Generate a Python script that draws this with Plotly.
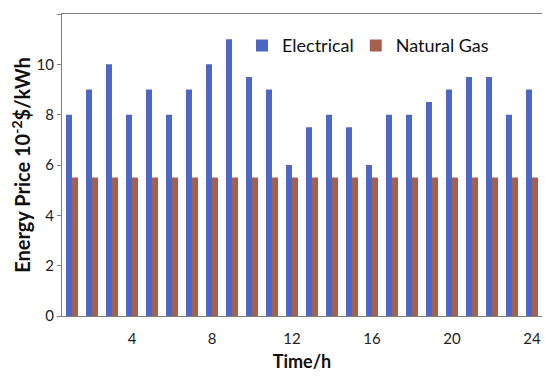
import plotly.graph_objects as go

hours = list(range(1, 25))
electrical = [8, 9, 10, 8, 9, 8, 9, 10, 11, 9.5, 9, 6, 7.5, 8, 7.5, 6, 8, 8, 8.5, 9, 9.5, 9.5, 8, 9]
natural_gas = [5.5] * 24
x_ticks = [4, 8, 12, 16, 20, 24]
y_ticks = [0, 2, 4, 6, 8, 10, 12]

FONT = "Lato"

fig = go.Figure()
fig.add_trace(go.Bar(x=hours, y=electrical, name="Electrical", marker_color="#4F67C4",
                     marker_line_width=0, showlegend=True))
fig.add_trace(go.Bar(x=hours, y=natural_gas, name="Natural Gas", marker_color="#A6604E",
                     marker_line_width=0, showlegend=True, legend="legend2"))

leg_common = dict(orientation="h", y=0.895, xanchor="left", yanchor="middle",
                  font=dict(family=FONT, size=18, color="#111"), itemwidth=30,
                  bgcolor="rgba(0,0,0,0)", visible=True)

# page body has an 8px margin, so the figure is sized to fit the 550x378 window
fig.update_layout(
    width=542, height=370,
    margin=dict(l=54, r=8, t=6, b=62, autoexpand=False),
    paper_bgcolor="white", plot_bgcolor="white", showlegend=True,
    barmode="group", bargap=0.4, bargroupgap=0,
    font=dict(family=FONT, size=15, color="#222"),
    legend=dict(x=0.375, **leg_common),
    legend2=dict(x=0.612, **leg_common),
    xaxis=dict(range=[0.5, 24.5], tickvals=x_ticks, ticktext=[str(v) for v in x_ticks],
               showgrid=False, zeroline=False, showline=True, linecolor="#808080", linewidth=1,
               mirror=True, ticks="", tickfont=dict(size=15), automargin=False,
               ticklabelstandoff=9,
               title=dict(text="<b>Time/h</b>", font=dict(family=FONT, size=18, color="#111"), standoff=9)),
    yaxis=dict(range=[0, 12], tickvals=y_ticks, showgrid=False, zeroline=False,
               showline=True, linecolor="#808080", linewidth=1, mirror=True, automargin=False,
               ticks="outside", ticklen=4, tickcolor="#808080", tickfont=dict(size=15),
               title=dict(text="<b>Energy Price 10<sup>-2</sup>$/kWh</b>",
                          font=dict(family=FONT, size=20, color="#111"), standoff=3)),
)

fig.write_html("out.html")
